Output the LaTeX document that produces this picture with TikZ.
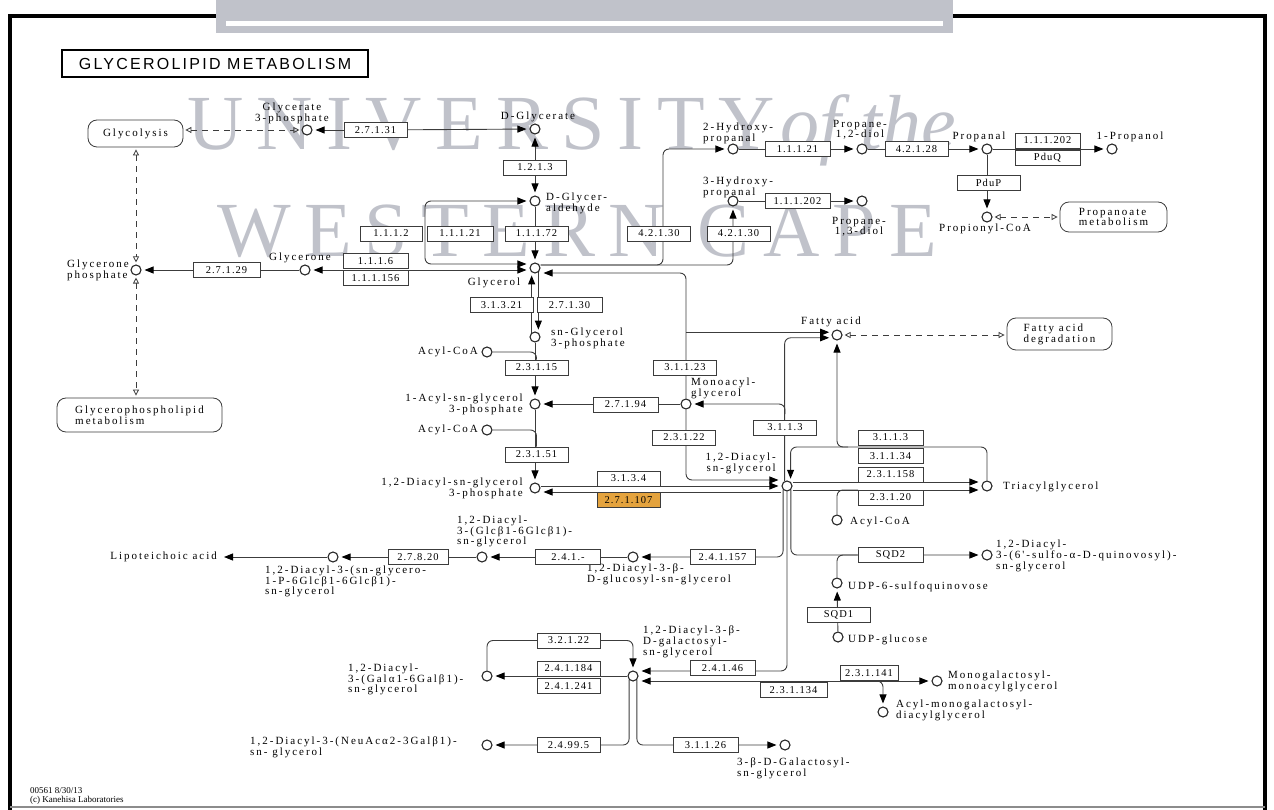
\documentclass[tikz,border=0pt]{standalone}
\usepackage{fontspec}
\setmainfont{Liberation Serif}
\newfontfamily\cpdfont[LetterSpace=18]{Liberation Serif}
\newfontfamily\ecfont[LetterSpace=10]{Liberation Serif}
\newfontfamily\titlefont[LetterSpace=14]{Liberation Sans}
\newfontfamily\wmfont[LetterSpace=17]{Liberation Serif}
\usetikzlibrary{arrows.meta}

\definecolor{keggline}{RGB}{60,60,60}
\definecolor{wmgray}{RGB}{192,194,202}
\definecolor{hitorange}{RGB}{228,163,62}

\pgfdeclarelayer{background layer}
\pgfsetlayers{background layer,main}

\tikzset{
  ec/.style={draw=keggline, fill=white, line width=0.8pt, minimum width=63pt,
    minimum height=15pt, inner sep=0pt, font=\ecfont\fontsize{10.5}{10}\selectfont},
  cpd/.style={circle, draw=black!85, fill=white, line width=1.1pt,
    minimum size=10pt, inner sep=0pt},
  lbl/.style={inner sep=0pt, font=\cpdfont\fontsize{11}{10}\selectfont},
  mapbox/.style={draw=keggline, fill=white, rounded corners=9pt, line width=0.8pt,
    inner sep=0pt, font=\cpdfont\fontsize{11}{10}\selectfont},
  rxn/.style={draw=keggline, line width=0.9pt, rounded corners=6pt},
  fw/.style={-{Triangle[length=9pt,width=7pt,color=black]}, shorten >=3pt},
  fwbw/.style={{Triangle[length=9pt,width=7pt,color=black]}-{Triangle[length=9pt,width=7pt,color=black]},
    shorten >=3pt, shorten <=3pt},
  lnk/.style={draw=keggline, line width=0.8pt, dash pattern=on 6pt off 5pt,
    {Triangle[open,length=6pt,width=6pt]}-{Triangle[open,length=6pt,width=6pt]},
    shorten >=2pt, shorten <=2pt},
  wmtext/.style={inner sep=0pt, text=wmgray, anchor=base west},
}

\begin{document}
\begin{tikzpicture}[x=1pt,y=-1pt]
\useasboundingbox (0,0) rectangle (1274,810);

% frame and the bar at the top
\draw[line width=3.5pt] (10,810) -- (10,16) -- (1265,16) -- (1265,810);
\draw[black!45, line width=1.5pt] (10,807) -- (1265,807);
\fill[wmgray] (216,0) rectangle (953,33);
\fill[white] (226,21) rectangle (943,26);

\node[draw, line width=2.5pt, minimum width=306pt, minimum height=27pt,
  inner sep=0pt, font=\titlefont\fontsize{16}{16}\selectfont] (title) at (215,63.5) {GLYCEROLIPID METABOLISM};

% compounds
\node[cpd] (cG3P) at (307,130) {};
\node[cpd] (cDGlyc) at (535,129) {};
\node[cpd] (cGald) at (535,201) {};
\node[cpd] (cGlyn) at (305,270) {};
\node[cpd] (cGlyP) at (136,270) {};
\node[cpd] (cGlol) at (535,268) {};
\node[cpd] (cHP2) at (733,149) {};
\node[cpd] (cPD12) at (862,149) {};
\node[cpd] (cPal) at (987,149) {};
\node[cpd] (cPol) at (1112,149) {};
\node[cpd] (cPCoA) at (987,217) {};
\node[cpd] (cHP3) at (733,201) {};
\node[cpd] (cPD13) at (862,201) {};
\node[cpd] (cSnG3P) at (535,337) {};
\node[cpd] (cAcoa1) at (487,352) {};
\node[cpd] (cLPA) at (535,404) {};
\node[cpd] (cMAG) at (686,404) {};
\node[cpd] (cAcoa2) at (487,430) {};
\node[cpd] (cPA) at (535,488) {};
\node[cpd] (cFA) at (837,335) {};
\node[cpd] (cDAG) at (787,486) {};
\node[cpd] (cTAG) at (987,486) {};
\node[cpd] (cAcoa3) at (837,520) {};
\node[cpd] (cSQDG) at (987,555) {};
\node[cpd] (cUSQ) at (837,583) {};
\node[cpd] (cUGlc) at (838,637) {};
\node[cpd] (cGlcDAG) at (633,557) {};
\node[cpd] (cGlcGlc) at (482,557) {};
\node[cpd] (cLTApre) at (333,557) {};
\node[cpd] (cMGDG) at (633,676) {};
\node[cpd] (cDGDG) at (487,676) {};
\node[cpd] (cSiaDG) at (487,745) {};
\node[cpd] (cGalG) at (785,745) {};
\node[cpd] (cMGMG) at (937,681) {};
\node[cpd] (cAMGDG) at (883,712) {};

% compound names
\node[lbl, align=center] (tG3P) at (292,113) {Glycerate\\3-phosphate};
\node[lbl] (tDGlyc) at (538,117) {D-Glycerate};
\node[lbl, anchor=west, align=left] (tGald) at (546,203) {D-Glycer-\\aldehyde};
\node[lbl] (tGlyn) at (300,258) {Glycerone};
\node[lbl, anchor=east, align=left] (tGlyP) at (129,270) {Glycerone\\phosphate};
\node[lbl] (tGlol) at (494,283) {Glycerol};
\node[lbl, anchor=west, align=left] (tHP2) at (703,133) {2-Hydroxy-\\propanal};
\node[lbl, anchor=west, align=left] (tHP3) at (703,187) {3-Hydroxy-\\propanal};
\node[lbl, align=center] (tPD12) at (860,130) {Propane-\\1,2-diol};
\node[lbl, align=center] (tPD13) at (859,227) {Propane-\\1,3-diol};
\node[lbl] (tPal) at (979,137) {Propanal};
\node[lbl] (tPol) at (1130,137) {1-Propanol};
\node[lbl] (tPCoA) at (985,229) {Propionyl-CoA};
\node[lbl, anchor=west, align=left] (tSnG3P) at (551,338) {sn-Glycerol\\3-phosphate};
\node[lbl, anchor=east] (tAcoa1) at (478,352) {Acyl-CoA};
\node[lbl, anchor=east] (tAcoa2) at (478,430) {Acyl-CoA};
\node[lbl, anchor=east, align=right] (tLPA) at (523,404) {1-Acyl-sn-glycerol\\3-phosphate};
\node[lbl, anchor=east, align=right] (tPA) at (523,488) {1,2-Diacyl-sn-glycerol\\3-phosphate};
\node[lbl, anchor=west, align=left] (tMAG) at (691,388) {Monoacyl-\\glycerol};
\node[lbl] (tFA) at (831,322) {Fatty acid};
\node[lbl, anchor=east, align=right] (tDAG) at (776,463) {1,2-Diacyl-\\sn-glycerol};
\node[lbl, anchor=west] (tTAG) at (1003,487) {Triacylglycerol};
\node[lbl, anchor=west] (tAcoa3) at (850,522) {Acyl-CoA};
\node[lbl, anchor=west, align=left] (tSQDG) at (996,556) {1,2-Diacyl-\\3-(6'-sulfo-α-D-quinovosyl)-\\sn-glycerol};
\node[lbl, anchor=west] (tUSQ) at (848,587) {UDP-6-sulfoquinovose};
\node[lbl, anchor=west] (tUGlc) at (848,640) {UDP-glucose};
\node[lbl, anchor=west, align=left] (tGlcGlc) at (457,531) {1,2-Diacyl-\\3-(Glcβ1-6Glcβ1)-\\sn-glycerol};
\node[lbl, anchor=north west, align=left] (tLTApre) at (265,566) {1,2-Diacyl-3-(sn-glycero-\\1-P-6Glcβ1-6Glcβ1)-\\sn-glycerol};
\node[lbl, anchor=north west, align=left] (tGlcDAG) at (587,564) {1,2-Diacyl-3-β-\\D-glucosyl-sn-glycerol};
\node[lbl, anchor=east, inner xsep=4pt] (tLTA) at (221,557) {Lipoteichoic acid};
\node[lbl, anchor=north west, align=left] (tMGDG) at (643,626) {1,2-Diacyl-3-β-\\D-galactosyl-\\sn-glycerol};
\node[lbl, anchor=west, align=left] (tDGDG) at (348,679) {1,2-Diacyl-\\3-(Galα1-6Galβ1)-\\sn-glycerol};
\node[lbl, anchor=west, align=left] (tSiaDG) at (250,747) {1,2-Diacyl-3-(NeuAcα2-3Galβ1)-\\sn- glycerol};
\node[lbl, anchor=north west, align=left] (tGalG) at (737,758) {3-β-D-Galactosyl-\\sn-glycerol};
\node[lbl, anchor=west, align=left] (tMGMG) at (948,681) {Monogalactosyl-\\monoacylglycerol};
\node[lbl, anchor=west, align=left] (tAMGDG) at (896,710) {Acyl-monogalactosyl-\\diacylglycerol};
\node[inner sep=0pt, anchor=north west, align=left, font=\fontsize{9}{9}\selectfont] (tFoot) at (30,787) {00561 8/30/13\\(c) Kanehisa Laboratories};

% other maps
\node[mapbox, minimum width=95pt, minimum height=27pt, align=center] (mGlyc) at (135.5,133.5) {Glycolysis};
\node[mapbox, minimum width=165pt, minimum height=34pt, align=left] (mGPL) at (139.5,415) {Glycerophospholipid\\metabolism};
\node[mapbox, minimum width=107pt, minimum height=30pt, align=left] (mProp) at (1113.5,217) {Propanoate\\metabolism};
\node[mapbox, minimum width=105pt, minimum height=32pt, align=left] (mFAD) at (1059.5,334) {Fatty acid\\degradation};

% enzymes
\node[ec] (e27131) at (375.5,130) {2.7.1.31};
\node[ec] (e1213) at (535,167.5) {1.2.1.3};
\node[ec, minimum width=62pt] (e1112) at (391,233.5) {1.1.1.2};
\node[ec, minimum width=66pt] (e11121a) at (460,233.5) {1.1.1.21};
\node[ec] (e11172) at (536.5,233.5) {1.1.1.72};
\node[ec, minimum width=65pt] (e1116) at (375.5,261) {1.1.1.6};
\node[ec, minimum width=65pt] (e111156) at (375.5,278) {1.1.1.156};
\node[ec, minimum width=67pt] (e27129) at (226.5,270) {2.7.1.29};
\node[ec] (e42130a) at (659,233.5) {4.2.1.30};
\node[ec] (e42130b) at (738.5,233.5) {4.2.1.30};
\node[ec, minimum width=65pt] (e11121b) at (797.5,149) {1.1.1.21};
\node[ec, minimum width=65pt] (e111202a) at (797.5,201) {1.1.1.202};
\node[ec] (e42128) at (916.5,149) {4.2.1.28};
\node[ec, minimum width=65pt] (e111202b) at (1047.5,140.5) {1.1.1.202};
\node[ec, minimum width=65pt] (ePduQ) at (1047.5,157.5) {PduQ};
\node[ec] (ePduP) at (988.5,182.5) {PduP};
\node[ec] (e31321) at (501.5,305) {3.1.3.21};
\node[ec, minimum width=65pt] (e27130) at (569.5,305) {2.7.1.30};
\node[ec] (e23115) at (536.5,367.5) {2.3.1.15};
\node[ec] (e31123) at (685,367.5) {3.1.1.23};
\node[ec, minimum width=65pt] (e27194) at (625.5,404.5) {2.7.1.94};
\node[ec] (e23122) at (684,437.5) {2.3.1.22};
\node[ec] (e3113a) at (785,427.5) {3.1.1.3};
\node[ec] (e23151) at (536.5,454.5) {2.3.1.51};
\node[ec] (e3134) at (628.5,478.5) {3.1.3.4};
\node[ec, fill=hitorange] (e271107) at (628.5,500) {2.7.1.107};
\node[ec, minimum width=65pt] (e3113b) at (890.5,437.5) {3.1.1.3};
\node[ec, minimum width=65pt] (e31134) at (890.5,456) {3.1.1.34};
\node[ec, minimum width=65pt] (e231158) at (890.5,474.5) {2.3.1.158};
\node[ec, minimum width=65pt] (e23120) at (890.5,497.5) {2.3.1.20};
\node[ec, minimum width=65pt] (eSQD2) at (890.5,555) {SQD2};
\node[ec] (eSQD1) at (838.5,614.5) {SQD1};
\node[ec, minimum width=65pt] (e24157) at (722.5,557) {2.4.1.157};
\node[ec, minimum width=65pt] (e241x) at (568,557) {2.4.1.-};
\node[ec, minimum width=60pt] (e27820) at (418,557) {2.7.8.20};
\node[ec] (e32122) at (568.5,640.5) {3.2.1.22};
\node[ec] (e241184) at (568.5,668.5) {2.4.1.184};
\node[ec] (e241241) at (568.5,686) {2.4.1.241};
\node[ec, minimum width=65pt] (e24146) at (722.5,668) {2.4.1.46};
\node[ec, minimum width=67pt] (e231134) at (793.5,690) {2.3.1.134};
\node[ec, minimum width=58pt] (e231141) at (869,673) {2.3.1.141};
\node[ec] (e24995) at (568.5,745) {2.4.99.5};
\node[ec, minimum width=65pt] (e31126) at (705.5,745) {3.1.1.26};

\begin{pgfonlayer}{background layer}
  % watermark
  \node[wmtext, font=\wmfont\fontsize{78}{78}\selectfont] (wmUni) at (187,150) {UNIVERSITY};
  \node[wmtext, font=\rmfamily\itshape\fontsize{78}{78}\selectfont] (wmOf) at (780,150) {of the};
  \node[wmtext, font=\wmfont\fontsize{78}{78}\selectfont] (wmCape) at (217,257) {WESTERN CAPE};

  % links to other maps
  \draw[lnk] (mGlyc.east |- cG3P) -- (cG3P);
  \draw[lnk] (mGlyc.south -| cGlyP) -- (cGlyP);
  \draw[lnk] (cGlyP) -- (mGPL.north -| cGlyP);
  \draw[lnk] (cPCoA) -- (mProp.west |- cPCoA);
  \draw[lnk] (cFA) -- (mFAD.west |- cFA);

  % glycerate, glyceraldehyde, glycerol
  \draw[rxn,fw] (e27131) -- (cG3P);
  \draw[rxn,fw] (e27131) -- (cDGlyc);
  \draw[rxn,fwbw] (cDGlyc) -- (cGald);
  \draw[rxn,fw] (cGald) -- (cGlol);
  \draw[rxn,fwbw] (cGald) -- (425,201) -- (425,264) -- ([yshift=4pt]cGlol.west);
  \draw[rxn,fw] (cGlyn) -- (cGlyP);
  \draw[rxn,fwbw] (cGlyn) -- (cGlyn -| cGlol.west);

  % propanediol branch
  \draw[rxn,fw] ([yshift=3pt]cGlol.east) -| (cHP3);
  \draw[rxn,fw] ([yshift=3pt]cGlol.east) -- (663,265) |- (cHP2);
  \draw[rxn,fw] (cHP2) -- (cPD12);
  \draw[rxn,fw] (cPD12) -- (cPal);
  \draw[rxn,fw] (cPal) -- (cPol);
  \draw[rxn,fw] (cPal) -- (cPCoA);
  \draw[rxn,fw] (cHP3) -- (cPD13);

  % glycerol 3-phosphate to phosphatidate
  \draw[rxn,fw] (cSnG3P.127) -- (cGlol.-127);
  \draw[rxn,fw] (cGlol.-53) -- (cSnG3P.53);
  \draw[rxn] (cAcoa1) -| (e23115.north);
  \draw[rxn,fw] (cSnG3P) -- (cLPA);
  \draw[rxn,fw] (cMAG) -- (cLPA);
  \draw[rxn] (cAcoa2) -| (e23151.north);
  \draw[rxn,fw] (cLPA) -- (cPA);
  \draw[rxn,fw] (cPA.east |- cDAG) -- (cDAG);
  \draw[rxn,fw] ([yshift=-6pt]cDAG.west) -- ([yshift=-6pt]cDAG.west -| cPA.east);

  % monoacylglycerol
  \draw[rxn,fw] (cMAG) |- ([yshift=-5pt]cGlol.east);
  \draw[rxn,fw] (cMAG |- cFA.150) -- (cFA.150);
  \draw[rxn,fw] (cMAG) |- ([yshift=6pt]cDAG.west);
  \draw[rxn,fw] (cDAG.115) |- (cFA.-150);
  \coordinate (jLip) at (785,414);
  \draw[rxn,fw] (jLip) |- (cMAG);

  % triacylglycerol
  \coordinate (jTAG) at (848,447);
  \draw[rxn,fw] (cTAG) |- (jTAG) -| (cDAG.50);
  \draw[rxn,fw] (jTAG) -| (cFA);
  \draw[rxn,fw] ([yshift=4pt]cDAG.east) -- ([yshift=4pt]cTAG.west);
  \draw[rxn,fw] ([yshift=-4pt]cDAG.east) -- ([yshift=-4pt]cTAG.west);
  \coordinate (jAcoa) at (858,490);
  \draw[rxn] (cAcoa3) |- (jAcoa);

  % glycolipids
  \draw[rxn,fw] (cDAG.south west) |- (cGlcDAG);
  \draw[rxn,fw] (cDAG.south) |- ([yshift=5pt]cMGDG.east);
  \draw[rxn,fw] (cDAG.south east) |- (cSQDG);
  \draw[rxn] (cUSQ) |- (eSQD2.west);
  \draw[rxn,fw] (cUGlc) -- (cUSQ);
  \draw[rxn,fw] (cGlcDAG) -- (cGlcGlc);
  \draw[rxn,fw] (cGlcGlc) -- (cLTApre);
  \draw[rxn,fw] (cLTApre) -- (tLTA);
  \draw[rxn,fwbw] ([yshift=-5pt]cMGDG.east) -- (cMGMG);
  \coordinate (jAM) at (870,681);
  \draw[rxn,fw] (jAM) -| (cAMGDG);
  \draw[rxn,fw] (cMGDG) -- (cDGDG);
  \draw[rxn,fw] (cDGDG) |- (cMGDG |- e32122) -- (cMGDG);
  \draw[rxn,fw] (cMGDG.south west) |- (cSiaDG);
  \draw[rxn,fw] (cMGDG.south east) |- (cGalG);
\end{pgfonlayer}
\end{tikzpicture}
\end{document}
